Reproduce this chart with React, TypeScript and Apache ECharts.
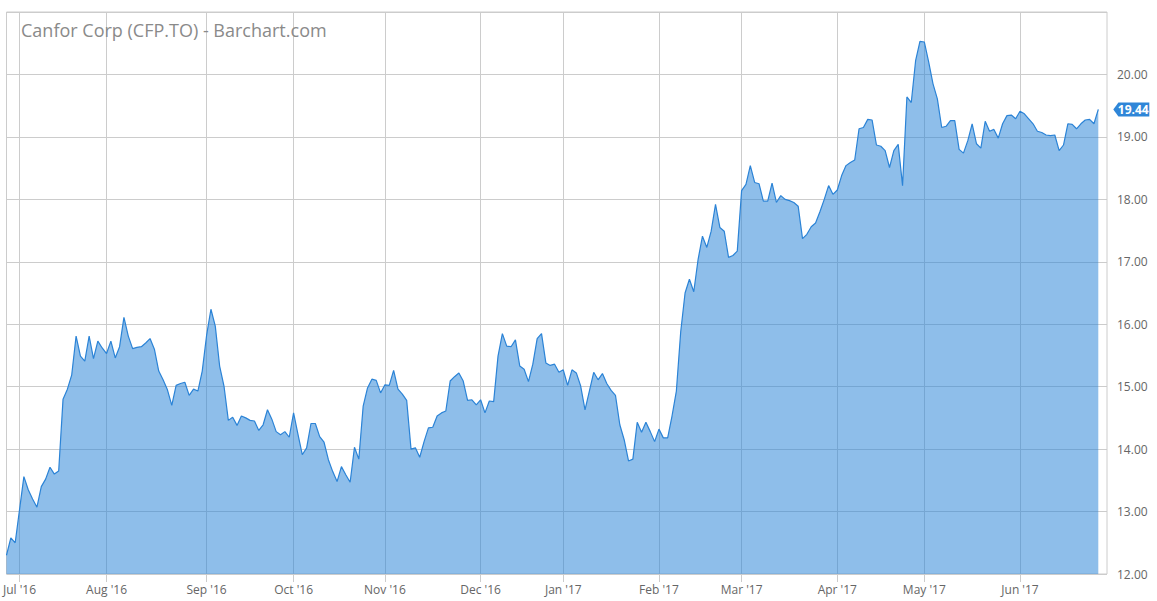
import { useEffect, useRef } from 'react';
import * as echarts from 'echarts';

// ---- data ----
const TITLE = 'Canfor Corp (CFP.TO) - Barchart.com';
const START_DATE = '2016-06-27';
const END_DATE = '2017-06-29'; // two extra trading days of empty space at the right edge
const TSX_HOLIDAYS = [
  '2016-07-01', '2016-08-01', '2016-09-05', '2016-10-10', '2016-12-26',
  '2016-12-27', '2017-01-02', '2017-02-20', '2017-04-14', '2017-05-22',
];
const MONTH_NAMES = ['Jan', 'Feb', 'Mar', 'Apr', 'May', 'Jun', 'Jul', 'Aug', 'Sep', 'Oct', 'Nov', 'Dec'];

const PRICES = [
  12.30, 12.58, 12.50, 13.03, 13.56, 13.35, 13.20, 13.07, 13.40, 13.52,
  13.71, 13.60, 13.65, 14.80, 14.96, 15.19, 15.81, 15.49, 15.41, 15.81,
  15.45, 15.73, 15.62, 15.53, 15.73, 15.46, 15.64, 16.11, 15.81, 15.61,
  15.63, 15.64, 15.70, 15.77, 15.60, 15.25, 15.11, 14.95, 14.70, 15.02,
  15.05, 15.07, 14.86, 14.96, 14.93, 15.25, 15.82, 16.24, 15.97, 15.33,
  15.01, 14.46, 14.51, 14.38, 14.53, 14.50, 14.46, 14.45, 14.30, 14.39,
  14.63, 14.48, 14.28, 14.23, 14.28, 14.19, 14.58, 14.24, 13.91, 14.02,
  14.41, 14.41, 14.20, 14.11, 13.83, 13.64, 13.48, 13.72, 13.59, 13.47,
  14.03, 13.84, 14.69, 14.98, 15.12, 15.10, 14.90, 15.03, 15.02, 15.26,
  14.96, 14.88, 14.78, 14.00, 14.02, 13.87, 14.12, 14.34, 14.35, 14.53,
  14.58, 14.61, 15.09, 15.16, 15.22, 15.09, 14.78, 14.79, 14.71, 14.79,
  14.58, 14.77, 14.76, 15.49, 15.85, 15.65, 15.64, 15.75, 15.33, 15.28,
  15.08, 15.36, 15.77, 15.85, 15.38, 15.34, 15.36, 15.23, 15.27, 15.02,
  15.27, 15.22, 15.01, 14.63, 14.93, 15.23, 15.11, 15.21, 15.05, 14.94,
  14.86, 14.39, 14.15, 13.81, 13.84, 14.43, 14.27, 14.43, 14.28, 14.12,
  14.32, 14.18, 14.18, 14.53, 14.93, 15.88, 16.50, 16.72, 16.52, 17.04,
  17.41, 17.23, 17.49, 17.92, 17.55, 17.49, 17.07, 17.10, 17.17, 18.14,
  18.24, 18.54, 18.27, 18.25, 17.97, 17.97, 18.26, 17.95, 18.06, 18.00,
  17.98, 17.95, 17.89, 17.37, 17.44, 17.56, 17.62, 17.80, 18.00, 18.22,
  18.08, 18.15, 18.38, 18.54, 18.59, 18.63, 19.13, 19.15, 19.28, 19.27,
  18.87, 18.85, 18.78, 18.51, 18.78, 18.88, 18.22, 19.64, 19.55, 20.22,
  20.53, 20.52, 20.20, 19.85, 19.61, 19.15, 19.17, 19.26, 19.26, 18.80,
  18.74, 18.94, 19.21, 18.89, 18.82, 19.25, 19.09, 19.12, 18.98, 19.21,
  19.34, 19.35, 19.29, 19.41, 19.37, 19.29, 19.21, 19.09, 19.07, 19.03,
  19.02, 19.03, 18.78, 18.87, 19.21, 19.20, 19.13, 19.21, 19.27, 19.28,
  19.21, 19.44,
];

const Y_MIN = 12;
const Y_MAX = 21;
const Y_STEP = 1;

// ---- derived categories ----
function tradingDays(): string[] {
  const out: string[] = [];
  const hol = new Set(TSX_HOLIDAYS);
  const end = new Date(END_DATE + 'T00:00:00Z').getTime();
  for (let t = new Date(START_DATE + 'T00:00:00Z').getTime(); t <= end; t += 86400000) {
    const d = new Date(t);
    const wd = d.getUTCDay();
    const s = d.toISOString().slice(0, 10);
    if (wd === 0 || wd === 6 || hol.has(s)) continue;
    out.push(s);
  }
  return out;
}

const DATES = tradingDays();

// month marker: last trading day on or before the 1st of each month
function monthMarkers(): Record<number, string> {
  const res: Record<number, string> = {};
  const first = new Date(START_DATE + 'T00:00:00Z');
  for (let m = 1; m <= 12; m++) {
    const d = new Date(Date.UTC(first.getUTCFullYear(), first.getUTCMonth() + m, 1));
    const key = d.toISOString().slice(0, 10);
    let idx = -1;
    for (let i = 0; i < DATES.length; i++) {
      if (DATES[i] <= key) idx = i;
    }
    if (idx >= 0) {
      res[idx] = MONTH_NAMES[d.getUTCMonth()] + " '" + String(d.getUTCFullYear()).slice(2);
    }
  }
  return res;
}

const MARKERS = monthMarkers();
const isMarker = (i: number) => MARKERS[i] !== undefined;

const FONT = 'Open Sans';

export default function App() {
  const ref = useRef<HTMLDivElement>(null);
  useEffect(() => {
    if (!ref.current) return;
    const chart = echarts.init(ref.current, undefined, { renderer: 'svg' });
    const lastIdx = PRICES.length - 1;
    const last = PRICES[lastIdx];
    chart.setOption({
      animation: false,
      backgroundColor: '#fff',
      textStyle: { fontFamily: FONT },
      title: {
        text: TITLE,
        left: 21,
        top: 21,
        padding: 0,
        textStyle: { fontFamily: FONT, fontSize: 18, fontWeight: 'normal', color: '#8a8a8a' },
      },
      grid: {
        left: 5,
        right: 50,
        top: 12,
        bottom: 27,
        show: true,
        borderColor: '#cccccc',
        borderWidth: 1,
        backgroundColor: 'transparent',
      },
      xAxis: {
        type: 'category',
        data: DATES,
        boundaryGap: false,
        axisLine: { show: false },
        axisTick: {
          show: true,
          interval: (i: number) => isMarker(i),
          length: 8,
          lineStyle: { color: '#cccccc' },
        },
        axisLabel: {
          interval: (i: number) => isMarker(i),
          formatter: (_v: string, i: number) => MARKERS[i] || '',
          margin: 9,
          fontSize: 12,
          color: '#666',
          fontFamily: FONT,
        },
        splitLine: {
          show: true,
          interval: (i: number) => isMarker(i),
          lineStyle: { color: '#cccccc', width: 1 },
        },
      },
      yAxis: {
        type: 'value',
        position: 'right',
        min: Y_MIN,
        max: Y_MAX,
        interval: Y_STEP,
        axisLine: { show: false },
        axisTick: { show: false },
        axisLabel: {
          showMaxLabel: false,
          formatter: (v: number) => v.toFixed(2),
          margin: 10,
          fontSize: 12,
          color: '#666',
          fontFamily: FONT,
        },
        splitLine: { show: true, lineStyle: { color: '#cccccc', width: 1 } },
      },
      series: [
        {
          type: 'line',
          data: PRICES,
          showSymbol: false,
          symbol: 'none',
          lineStyle: { color: '#2b83d6', width: 1.2 },
          areaStyle: { color: 'rgba(42,133,216,0.53)', opacity: 1 },
          markPoint: {
            symbol: 'path://M0,7L6,0L42,0L42,14L6,14Z',
            symbolSize: [36, 14],
            symbolOffset: [33, 0],
            itemStyle: { color: '#2f86d8' },
            label: {
              show: true,
              position: 'inside',
              offset: [2, 0],
              color: '#fff',
              fontSize: 12,
              fontWeight: 'bold',
              fontFamily: FONT,
              formatter: (p: any) => Number(p.value).toFixed(2),
            },
            data: [{ coord: [lastIdx, last], value: last }],
          },
        },
      ],
    });
    return () => chart.dispose();
  }, []);
  return (
    <div
      ref={ref}
      style={{ position: 'fixed', left: 0, top: 0, width: 1157, height: 601, background: '#fff' }}
    />
  );
}
